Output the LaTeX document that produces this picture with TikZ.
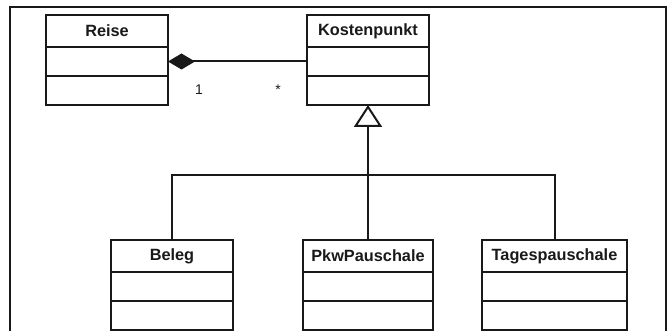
\documentclass[tikz,border=0pt]{standalone}
\usepackage{fontspec}
\setmainfont{Liberation Sans}
\usetikzlibrary{arrows.meta}

\tikzset{
  classhead/.style={draw, line width=1.9pt, minimum height=32pt, inner sep=0pt, outer sep=0pt,
    font=\fontsize{16.3}{18}\selectfont\bfseries},
  classpart/.style={draw, line width=1.9pt, minimum height=29pt, inner sep=0pt, outer sep=0pt},
  link/.style={line width=2pt},
  mult/.style={font=\fontsize{14}{16}\selectfont, anchor=base, inner sep=0pt},
}

% a class box: name, centre x, top y, width, title
\newcommand{\umlclass}[5]{%
  \node[classhead, minimum width=#4, anchor=north] (#1) at (#2,#3) {#5};
  \node[classpart, minimum width=#4, anchor=north] (#1-a) at (#1.south) {};
  \node[classpart, minimum width=#4, anchor=north] (#1-b) at (#1-a.south) {};
}

\begin{document}
\begin{tikzpicture}[x=1pt, y=-1pt, color=black!90]
  \useasboundingbox (0,0) rectangle (669,331);
  \draw[line width=1.5pt] (10,331) |- (666,7) -- (666,331);

  \umlclass{reise}{107}{15}{122pt}{Reise}
  \umlclass{kosten}{368}{15}{122pt}{Kostenpunkt}
  \umlclass{beleg}{172}{240}{122pt}{Beleg}
  \umlclass{pkw}{368}{240}{130pt}{PkwPauschale}
  \umlclass{tages}{554.5}{240}{145pt}{Tagespauschale}

  % composition
  \draw[link, {Diamond[length=27pt, width=16pt]}-] (reise-a.east) -- (kosten-a.west);
  \node[mult] (m-reise) at (199,95) {1};
  \node[mult] (m-kosten) at (278,95) {*};

  % generalisation
  \coordinate (join) at (368,175);
  \draw[link] (beleg.north) |- (join) -| (tages.north);
  \draw[link, -{Triangle[open, fill=white, length=22pt, width=28pt]}] (pkw.north) -- (kosten-b.south);
\end{tikzpicture}
\end{document}
